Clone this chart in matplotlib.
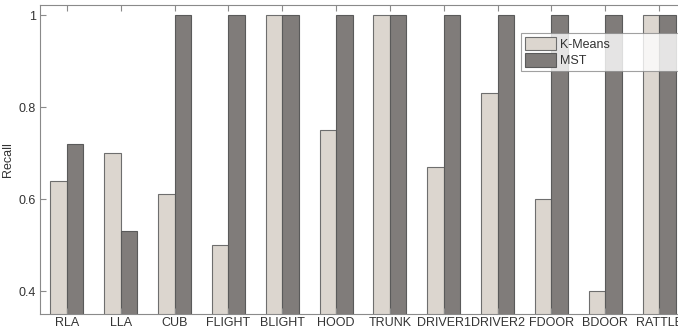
import numpy as np
import matplotlib
matplotlib.use("Agg")
import matplotlib.pyplot as plt

plt.rcParams['font.family'] = ['Liberation Sans', 'DejaVu Sans']

categories = ["RLA", "LLA", "CUB", "FLIGHT", "BLIGHT", "HOOD", "TRUNK",
              "DRIVER1", "DRIVER2", "FDOOR", "BDOOR", "RATTLE"]
kmeans = [0.64, 0.70, 0.61, 0.50, 1.0, 0.75, 1.0, 0.67, 0.83, 0.60, 0.40, 1.0]
mst = [0.72, 0.53, 1.0, 1.0, 1.0, 1.0, 1.0, 1.0, 1.0, 1.0, 1.0, 1.0]
yticks = [0.4, 0.6, 0.8, 1.0]
ytick_labels = ["0.4", "0.6", "0.8", "1"]

spine_col = "#8a8a8a"
text_col = "#333333"

fig = plt.figure(figsize=(6.78, 3.30), dpi=100)
ax = fig.add_axes([40 / 678, 16 / 330, 646 / 678, 309 / 330])

x = np.arange(1, len(categories) + 1)
w = 0.305
ax.bar(x - w / 2, kmeans, w, bottom=0, color="#dcd6cf", edgecolor="#6e6e6e",
       linewidth=0.8, label="K-Means")
ax.bar(x + w / 2, mst, w, bottom=0, color="#807c7a", edgecolor="#5a5a5a",
       linewidth=0.8, label="MST")

ax.set_xlim(0.5, len(categories) + 0.5)
ax.set_ylim(0.35, 1.022)
ax.set_xticks(x)
ax.set_xticklabels(categories)
ax.set_yticks(yticks)
ax.set_yticklabels(ytick_labels)
ax.set_ylabel("Recall", fontsize=9, color=text_col, labelpad=3)

ax.tick_params(direction="in", length=4, width=0.8, colors=spine_col,
               labelcolor=text_col, labelsize=9, top=True, right=True)
ax.tick_params(axis="x", pad=2)
ax.tick_params(axis="y", pad=3)
for s in ax.spines.values():
    s.set_color(spine_col)
    s.set_linewidth(0.8)

leg = ax.legend(loc="upper left",
                bbox_to_anchor=(521 / 678, 1 - 72 / 330, 180 / 678, 39 / 330),
                bbox_transform=fig.transFigure, mode="expand", fontsize=9,
                frameon=True, fancybox=False, borderpad=0.3,
                handlelength=2.5, handleheight=1.3, handletextpad=0.3,
                labelspacing=0.2, borderaxespad=0)
leg.get_frame().set_edgecolor(spine_col)
leg.get_frame().set_linewidth(0.8)
for t in leg.get_texts():
    t.set_color(text_col)

fig.savefig("out.png", dpi=100)
